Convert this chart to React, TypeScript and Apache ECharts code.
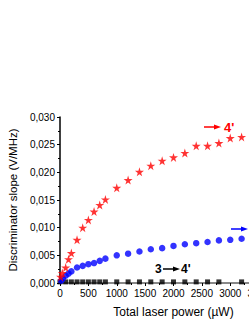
import React, { useEffect, useRef } from "react";
import * as echarts from "echarts";

const redX = [10, 40, 100, 150, 200, 300, 400, 500, 600, 700, 800, 1000, 1200, 1400, 1600, 1800, 2000, 2200, 2400, 2600, 2800, 3000, 3200];
const redY = [0.0011, 0.0018, 0.0028, 0.0043, 0.0054, 0.0078, 0.0100, 0.0114, 0.0129, 0.0141, 0.0151, 0.0172, 0.0186, 0.0201, 0.0212, 0.0221, 0.0227, 0.0235, 0.0248, 0.0248, 0.0253, 0.0262, 0.0264];

const blueX = [20, 50, 100, 150, 200, 300, 400, 500, 600, 700, 800, 1000, 1200, 1400, 1600, 1800, 2000, 2200, 2400, 2600, 2800, 3000, 3200];
const blueY = [0.0004, 0.0008, 0.0013, 0.0017, 0.0021, 0.0028, 0.0031, 0.0034, 0.0036, 0.0040, 0.0044, 0.0050, 0.0053, 0.0057, 0.0061, 0.0063, 0.0067, 0.0070, 0.0072, 0.0074, 0.0077, 0.0078, 0.0080];

const blackX = [0, 100, 200, 300, 400, 500, 600, 700, 800, 1000, 1200, 1400, 1600, 1800, 2000, 2200, 2400, 2600, 2800, 3200];
const blackY = [0.0002, 0.0002, 0.0002, 0.0002, 0.0002, 0.0002, 0.0002, 0.0002, 0.0002, 0.0002, 0.0002, 0.0002, 0.0002, 0.0002, 0.0002, 0.0002, 0.0002, 0.0002, 0.0002, 0.0002];

const xTicks = { min: 0, max: 4000, interval: 500 };
const yTicks = { min: 0, max: 0.03, interval: 0.005 };

const STAR = "path://M50,0 L61,35 L98,35 L68,57 L79,91 L50,70 L21,91 L32,57 L2,35 L39,35 Z";
const FONT = '"Liberation Sans", Arial, sans-serif';

function zip(xs: number[], ys: number[]) {
  return xs.map((x, i) => [x, ys[i]]);
}

export default function App() {
  const ref = useRef<HTMLDivElement>(null);
  useEffect(() => {
    if (!ref.current) return;
    const chart = echarts.init(ref.current, undefined, { renderer: "svg" });
    chart.setOption({
      animation: false,
      backgroundColor: "#ffffff",
      grid: { left: 60, top: 117, bottom: 40, right: -38, containLabel: false, outerBoundsMode: "none" },
      xAxis: [
        {
          type: "value",
          min: xTicks.min,
          max: xTicks.max,
          interval: xTicks.interval,
          name: "Total laser power (µW)",
          nameLocation: "middle",
          nameGap: 23,
          nameTextStyle: { fontFamily: FONT, fontSize: 12, color: "#000" },
          axisLine: { onZero: false, lineStyle: { color: "#000", width: 1.5 } },
          axisTick: { show: true, inside: false, length: 3, lineStyle: { color: "#000" } },
          minorTick: { show: true, splitNumber: 2, length: 2, lineStyle: { color: "#000" } },
          axisLabel: { fontFamily: FONT, fontSize: 10, color: "#000", margin: 5, formatter: (v: number) => String(v) },
          splitLine: { show: false },
        },
        {
          type: "value",
          position: "top",
          min: xTicks.min,
          max: xTicks.max,
          axisLine: { show: true, lineStyle: { color: "#888", width: 2 } },
          axisTick: { show: false },
          axisLabel: { show: false },
          splitLine: { show: false },
        },
      ],
      yAxis: {
        type: "value",
        min: yTicks.min,
        max: yTicks.max,
        interval: yTicks.interval,
        name: "Discriminator slope (V/MHz)",
        nameLocation: "middle",
        nameGap: 41,
        nameTextStyle: { fontFamily: FONT, fontSize: 11.5, color: "#000" },
        axisLine: { show: true, lineStyle: { color: "#000", width: 1.5 } },
        axisTick: { show: true, inside: false, length: 3, lineStyle: { color: "#000" } },
        minorTick: { show: true, splitNumber: 2, length: 2, lineStyle: { color: "#000" } },
        axisLabel: {
          fontFamily: FONT,
          fontSize: 10,
          color: "#000",
          margin: 5,
          formatter: (v: number) => v.toFixed(3).replace(".", ","),
        },
        splitLine: { show: false },
      },
      series: [
        {
          type: "scatter",
          data: zip(blackX, blackY),
          symbol: "rect",
          symbolSize: 5,
          itemStyle: { color: "#000" },
        },
        {
          type: "scatter",
          data: zip(blueX, blueY),
          symbol: "circle",
          symbolSize: 6.5,
          itemStyle: { color: "#0000ff" },
        },
        {
          type: "scatter",
          data: zip(redX, redY),
          symbol: STAR,
          symbolSize: 9,
          itemStyle: { color: "#ff0000" },
        },
      ],
      graphic: [
        { type: "line", shape: { x1: 204, y1: 127, x2: 216, y2: 127 }, style: { stroke: "#ff0000", lineWidth: 1.5 } },
        { type: "polygon", shape: { points: [[214, 124.5], [221, 127], [214, 129.5]] }, style: { fill: "#ff0000" } },
        { type: "text", x: 224, y: 127, style: { text: "4'", fill: "#ff0000", font: `bold 13px ${FONT}`, verticalAlign: "middle" } },
        { type: "line", shape: { x1: 231, y1: 229, x2: 243, y2: 229 }, style: { stroke: "#0000ff", lineWidth: 1.5 } },
        { type: "polygon", shape: { points: [[241, 226.5], [248, 229], [241, 231.5]] }, style: { fill: "#0000ff" } },
        { type: "text", x: 155, y: 269, style: { text: "3", fill: "#000", font: `bold 12px ${FONT}`, verticalAlign: "middle" } },
        { type: "line", shape: { x1: 163, y1: 269, x2: 175, y2: 269 }, style: { stroke: "#000", lineWidth: 1.5 } },
        { type: "polygon", shape: { points: [[173, 266.5], [180, 269], [173, 271.5]] }, style: { fill: "#000" } },
        { type: "text", x: 181, y: 269, style: { text: "4'", fill: "#000", font: `bold 12px ${FONT}`, verticalAlign: "middle" } },
      ],
    });
    return () => chart.dispose();
  }, []);
  return (
    <div
      ref={ref}
      style={{ position: "fixed", left: 0, top: 0, width: 249, height: 323, overflow: "hidden" }}
    />
  );
}
